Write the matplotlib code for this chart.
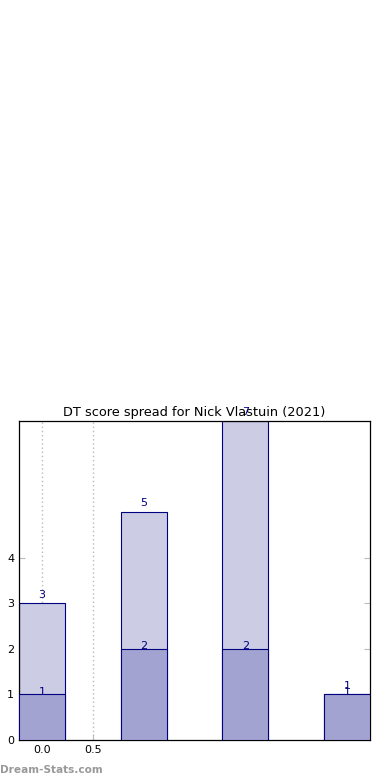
import matplotlib
matplotlib.use("Agg")
import matplotlib.pyplot as plt

positions = [0, 1, 2, 3]
totals = [3, 5, 7, 1]
lower = [1, 2, 2, 1]
xticks = [0.0, 0.5]
yticks = [0, 1, 2, 3, 4]
title = "DT score spread for Nick Vlastuin (2021)"

fig = plt.figure(figsize=(3.9, 7.8), dpi=100)
ax = fig.add_axes([0.0487, 0.0513, 0.9, 0.409])

w = 0.45
ax.bar(positions, totals, width=w, color="#ccccE5", edgecolor="#000080", linewidth=0.8, zorder=2)
ax.bar(positions, lower, width=w, color="#A3A3D1", edgecolor="#000080", linewidth=0.8, zorder=3)
for x, t, l in zip(positions, totals, lower):
    ax.text(x, t + 0.08, str(t), ha="center", va="bottom", color="#000080", fontsize=8, zorder=5)
    ax.text(x, l - 0.05, str(l), ha="center", va="bottom", color="#000080", fontsize=8, zorder=5)

ax.set_xlim(-0.225, 3.225)
ax.set_ylim(0, 7)
ax.set_xticks(xticks)
ax.set_xticklabels(["0.0", "0.5"])
ax.set_yticks(yticks)
ax.tick_params(axis="both", labelsize=8, direction="in", color="#bbbbbb", length=4,
               right=True, top=False)
ax.xaxis.grid(True, linestyle=(0, (1, 2)), color="#bbbbbb", linewidth=1, zorder=1)
ax.set_axisbelow(True)
for s in ax.spines.values():
    s.set_color("black")
    s.set_linewidth(0.9)
ax.set_title(title, fontsize=9.3, pad=3.5)

fig.text(0.0, 0.0128, "Dream-Stats.com", color="#999999", fontsize=7.6, fontweight="bold",
         ha="left", va="center")

fig.savefig("out.png", dpi=100)
